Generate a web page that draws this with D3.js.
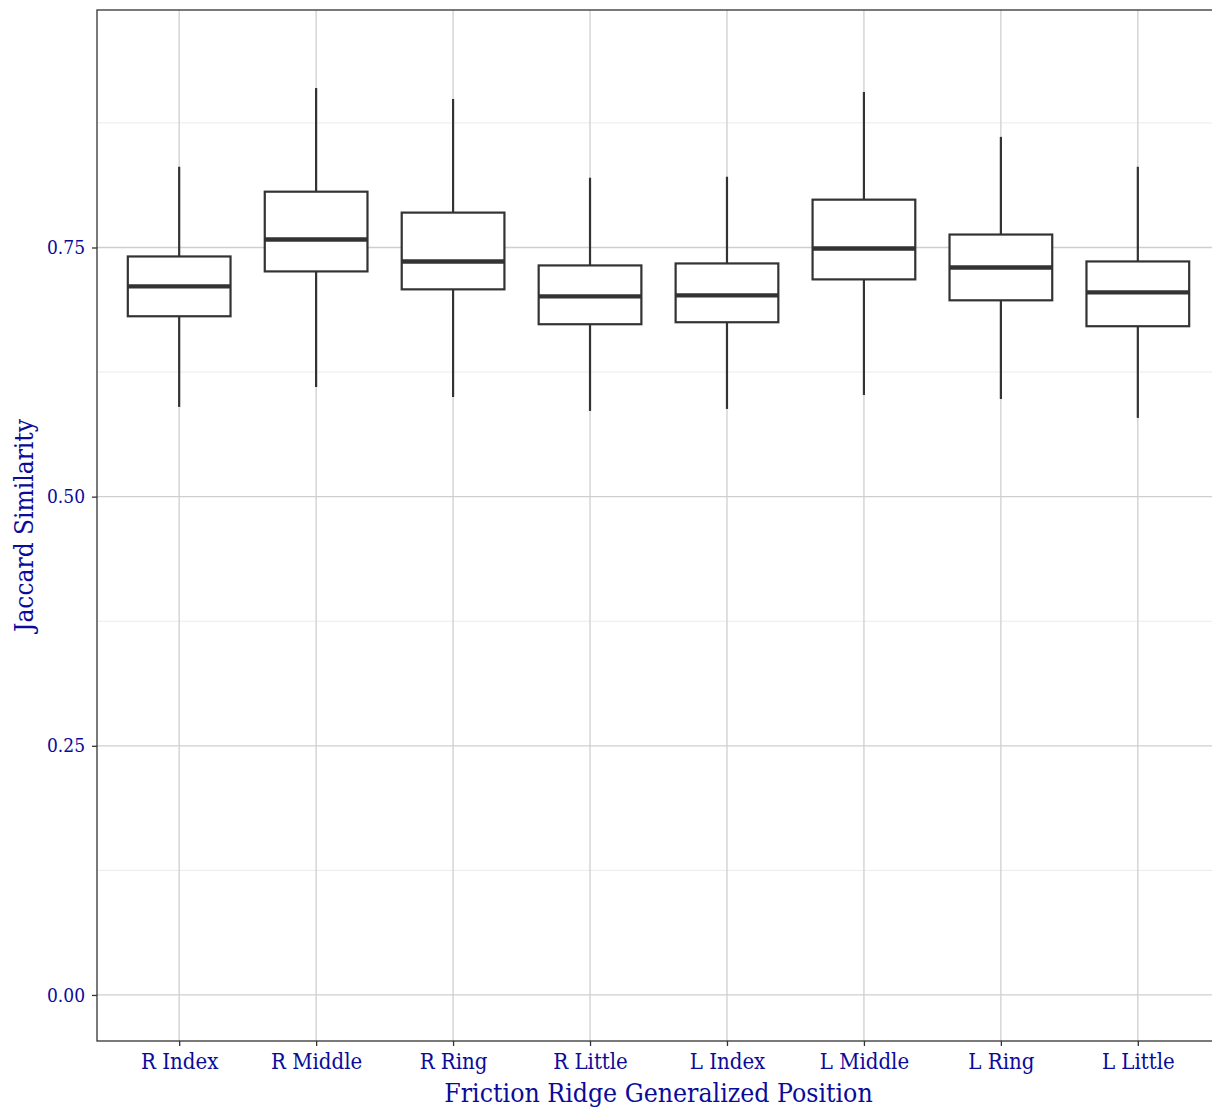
<!DOCTYPE html>
<html>
<head>
<meta charset="utf-8">
<script src="https://cdn.jsdelivr.net/npm/d3@7"></script>
<style>
  html, body { margin: 0; padding: 0; background: #ffffff; overflow: hidden; }
  svg { display: block; }
  text { font-family: "DejaVu Serif Condensed", "DejaVu Serif", serif; font-stretch: condensed; fill: #0b0b9a; }
</style>
</head>
<body>
<script>
const categories = ["R Index", "R Middle", "R Ring", "R Little", "L Index", "L Middle", "L Ring", "L Little"];
const whiskerLow  = [0.590, 0.610, 0.600, 0.586, 0.588, 0.602, 0.598, 0.579];
const q1Values    = [0.681, 0.726, 0.708, 0.673, 0.675, 0.718, 0.697, 0.671];
const medianVals  = [0.711, 0.758, 0.736, 0.701, 0.702, 0.749, 0.730, 0.705];
const q3Values    = [0.741, 0.806, 0.785, 0.732, 0.734, 0.798, 0.763, 0.736];
const whiskerHigh = [0.831, 0.910, 0.899, 0.820, 0.821, 0.906, 0.861, 0.831];
const yTicks = [0, 0.25, 0.5, 0.75];
const yMinorTicks = [0.125, 0.375, 0.625, 0.875];
const xTitle = "Friction Ridge Generalized Position";
const yTitle = "Jaccard Similarity";

const W = 1212, H = 1109;
const panel = { left: 97, right: 1220, top: 10, bottom: 1041 };
const FONT = '"DejaVu Serif Condensed", "DejaVu Serif", serif';
const TEXT_COLOR = "#0b0b9a";

const svg = d3.select("body").append("svg").attr("width", W).attr("height", H);

const x = d3.scaleLinear().domain([0.4, categories.length + 0.6]).range([panel.left, panel.right]);
const y = d3.scaleLinear().domain([-0.0462, 0.9883]).range([panel.bottom, panel.top]);

const data = categories.map((c, i) => ({
  cat: c, pos: i + 1,
  lo: whiskerLow[i], q1: q1Values[i], med: medianVals[i], q3: q3Values[i], hi: whiskerHigh[i]
}));

// grid
const grid = svg.append("g");
grid.selectAll("line.minor").data(yMinorTicks).join("line")
  .attr("x1", panel.left).attr("x2", panel.right)
  .attr("y1", d => y(d)).attr("y2", d => y(d))
  .attr("stroke", "#ebebeb").attr("stroke-width", 1);
grid.selectAll("line.majory").data(yTicks).join("line")
  .attr("x1", panel.left).attr("x2", panel.right)
  .attr("y1", d => y(d)).attr("y2", d => y(d))
  .attr("stroke", "#cfcfcf").attr("stroke-width", 1.3);
grid.selectAll("line.majorx").data(data).join("line")
  .attr("x1", d => x(d.pos)).attr("x2", d => x(d.pos))
  .attr("y1", panel.top).attr("y2", panel.bottom)
  .attr("stroke", "#cfcfcf").attr("stroke-width", 1.3);

// boxes
const boxW = 0.75;
const bg = svg.append("g");
const g = bg.selectAll("g.box").data(data).join("g");
g.append("line")
  .attr("x1", d => x(d.pos)).attr("x2", d => x(d.pos))
  .attr("y1", d => y(d.hi)).attr("y2", d => y(d.q3))
  .attr("stroke", "#333333").attr("stroke-width", 2.2);
g.append("line")
  .attr("x1", d => x(d.pos)).attr("x2", d => x(d.pos))
  .attr("y1", d => y(d.q1)).attr("y2", d => y(d.lo))
  .attr("stroke", "#333333").attr("stroke-width", 2.2);
g.append("rect")
  .attr("x", d => x(d.pos - boxW / 2)).attr("width", d => x(d.pos + boxW / 2) - x(d.pos - boxW / 2))
  .attr("y", d => y(d.q3)).attr("height", d => y(d.q1) - y(d.q3))
  .attr("fill", "#ffffff").attr("stroke", "#333333").attr("stroke-width", 2.2);
g.append("line")
  .attr("x1", d => x(d.pos - boxW / 2)).attr("x2", d => x(d.pos + boxW / 2))
  .attr("y1", d => y(d.med)).attr("y2", d => y(d.med))
  .attr("stroke", "#333333").attr("stroke-width", 4.4);

// panel border
svg.append("rect")
  .attr("x", panel.left).attr("y", panel.top)
  .attr("width", panel.right - panel.left).attr("height", panel.bottom - panel.top)
  .attr("fill", "none").attr("stroke", "#333333").attr("stroke-width", 1.3);

// axes
const yAxis = svg.append("g").attr("transform", `translate(${panel.left},0)`)
  .call(d3.axisLeft(y).tickValues(yTicks).tickFormat(d3.format(".2f")).tickSize(5).tickPadding(7));
yAxis.select(".domain").remove();
yAxis.selectAll(".tick line").attr("stroke", "#333333").attr("stroke-width", 1.3);
yAxis.selectAll(".tick text").attr("font-size", 19).attr("font-family", FONT).attr("fill", TEXT_COLOR);

const xAxis = svg.append("g").attr("transform", `translate(0,${panel.bottom})`)
  .call(d3.axisBottom(x).tickValues(data.map(d => d.pos)).tickFormat((d, i) => categories[i]).tickSize(5).tickPadding(7));
xAxis.select(".domain").remove();
xAxis.selectAll(".tick line").attr("stroke", "#333333").attr("stroke-width", 1.3);
xAxis.selectAll(".tick text").attr("font-size", 22).attr("font-family", FONT).attr("fill", TEXT_COLOR);

svg.append("text")
  .attr("x", (panel.left + panel.right) / 2).attr("y", 1102)
  .attr("text-anchor", "middle").attr("font-size", 26.4)
  .text(xTitle);
svg.append("text")
  .attr("transform", `translate(33,${(panel.top + panel.bottom) / 2}) rotate(-90)`)
  .attr("text-anchor", "middle").attr("font-size", 26)
  .text(yTitle);
</script>
</body>
</html>
